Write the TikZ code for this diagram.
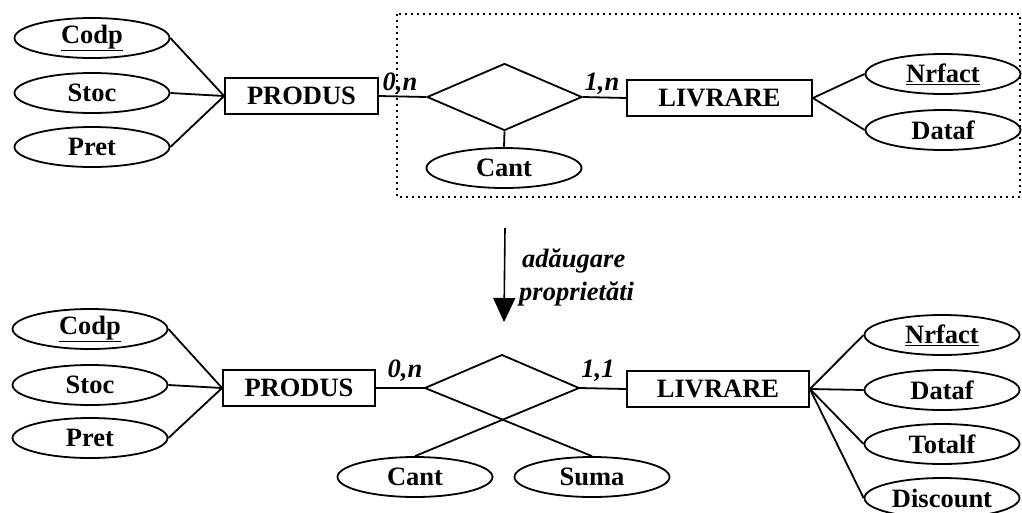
\documentclass[tikz,border=0pt]{standalone}
\usepackage{fontspec}
\setmainfont{Liberation Serif}
\usetikzlibrary{shapes.geometric,arrows.meta}
\newcommand{\erfont}{\fontsize{26.5}{30}\selectfont\bfseries}
\newcommand{\crdfont}{\fontsize{26.5}{30}\selectfont\bfseries\itshape}
\newcommand{\ul}[1]{\underline{#1}}
\tikzset{
  attr/.style={ellipse, draw, line width=1.8pt, minimum width=155pt, minimum height=40pt, inner sep=0pt, font=\erfont},
  ent/.style={rectangle, draw, line width=1.8pt, minimum height=36pt, inner sep=0pt, font=\erfont},
  rel/.style={diamond, draw, line width=1.8pt, minimum width=155pt, minimum height=67pt, inner sep=0pt},
  card/.style={font=\crdfont, inner sep=0pt},
  link/.style={line width=1.8pt},
  note/.style={font=\crdfont, inner sep=0pt, anchor=base west}
}
\begin{document}
\begin{tikzpicture}[x=1pt,y=-1pt]
\useasboundingbox (0,0) rectangle (1022,512);
\fill[white] (0,0) rectangle (1022,512);

% ---------- top diagram ----------
\draw[line width=1.6pt, dash pattern=on 1.6pt off 4.4pt] (397,14) rectangle (1020,197);

\node[attr] (codp1) at (92,38) {\ul{Codp}};
\node[attr] (stoc1) at (92,93) {Stoc};
\node[attr] (pret1) at (92,147) {Pret};
\node[ent, minimum width=153pt] (produs1) at (301.5,96) {PRODUS};
\node[rel] (rel1) at (504.5,97) {};
\node[attr] (cant1) at (504,168) {Cant};
\node[ent, minimum width=185pt] (livrare1) at (719.5,98) {LIVRARE};
\node[attr] (nrfact1) at (943,74) {\ul{Nrfact}};
\node[attr] (dataf1) at (943,130) {Dataf};

\draw[link] (codp1.east) -- (produs1.west);
\draw[link] (stoc1.east) -- (produs1.west);
\draw[link] (pret1.east) -- (produs1.west);
\draw[link] (produs1.east) -- (rel1.west);
\draw[link] (rel1.east) -- (livrare1.west);
\draw[link] (rel1.south) -- (cant1.north);
\draw[link] (livrare1.east) -- (nrfact1.west);
\draw[link] (livrare1.east) -- (dataf1.west);

\node[card] (c01) at (400,84) {0,n};
\node[card] (c1n) at (602,84) {1,n};

% ---------- arrow ----------
\coordinate (arrA) at (505,228);
\coordinate (arrB) at (504,322);
\draw[line width=1.6pt, -{Triangle[width=22pt,length=24pt]}] (arrA) -- (arrB);
\node[note] (n1) at (522,267) {adăugare};
\node[note] (n2) at (519,300) {proprietăti};

% ---------- bottom diagram ----------
\node[attr] (codp2) at (90,329) {\ul{Codp}};
\node[attr] (stoc2) at (90,385) {Stoc};
\node[attr] (pret2) at (90,438) {Pret};
\node[ent, minimum width=152pt] (produs2) at (299,388) {PRODUS};
\coordinate (dl) at (425,388);
\coordinate (dt) at (502,355);
\coordinate (dr) at (579,388);
\node[attr] (cant2) at (415,477) {Cant};
\node[attr] (suma2) at (592,477) {Suma};
\node[ent, minimum width=182pt] (livrare2) at (718,389) {LIVRARE};
\node[attr] (nrfact2) at (942,335) {\ul{Nrfact}};
\node[attr] (dataf2) at (942,390) {Dataf};
\node[attr] (totalf2) at (942,444) {Totalf};
\node[attr] (discount2) at (942,498) {Discount};

\draw[link] (codp2.east) -- (produs2.west);
\draw[link] (stoc2.east) -- (produs2.west);
\draw[link] (pret2.east) -- (produs2.west);
\draw[link] (produs2.east) -- (dl);
\draw[link, line join=miter] (dl) -- (dt) -- (dr);
\draw[link] (dl) -- (suma2.north);
\draw[link] (dr) -- (cant2.north);
\draw[link] (dr) -- (livrare2.west);
\draw[link] (livrare2.east) -- (nrfact2.west);
\draw[link] (livrare2.east) -- (dataf2.west);
\draw[link] (livrare2.east) -- (totalf2.west);
\draw[link] (livrare2.east) -- (discount2.west);

\node[card] (c02) at (405,371) {0,n};
\node[card] (c11) at (598,371) {1,1};
\end{tikzpicture}
\end{document}
